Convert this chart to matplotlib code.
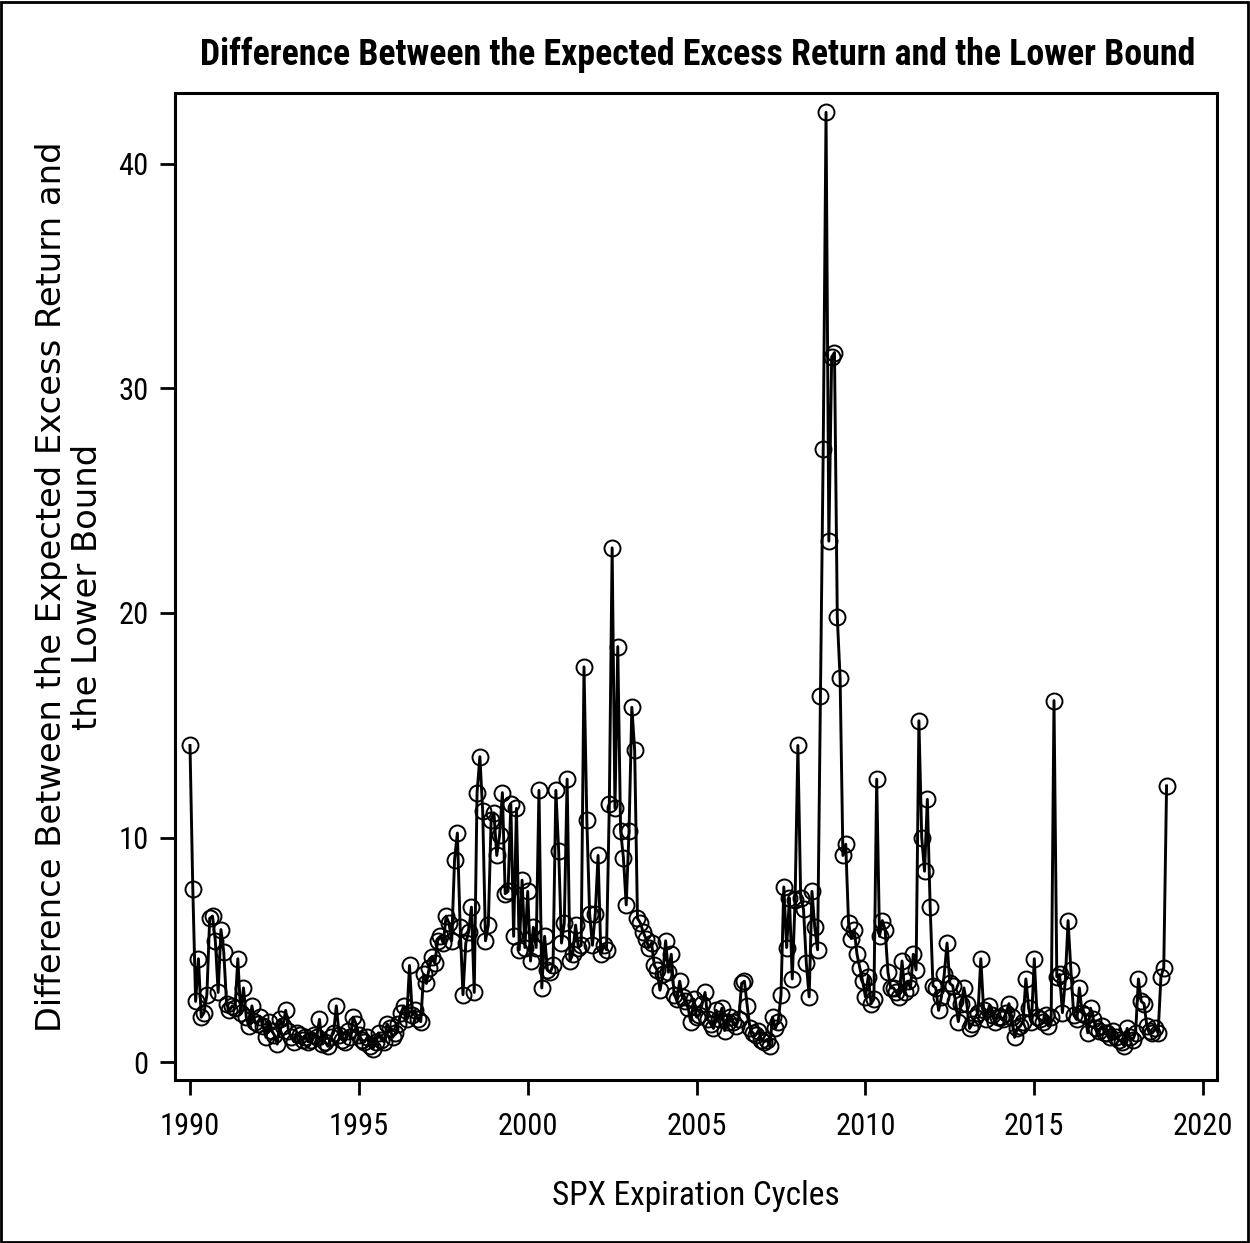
import numpy as np
import matplotlib
matplotlib.use("Agg")
import matplotlib.pyplot as plt
from matplotlib import font_manager
from matplotlib.font_manager import FontProperties

years = list(range(1990, 2019))
v1990 = [14.1, 7.7, 2.7, 4.6, 2.0, 2.2, 3.0, 6.4, 6.5, 5.4, 3.1, 5.9]
v1991 = [4.9, 2.6, 2.3, 2.5, 2.4, 4.6, 2.2, 3.3, 2.0, 1.6, 2.5, 1.8]
v1992 = [1.7, 2.0, 1.6, 1.1, 1.8, 1.4, 1.2, 0.8, 1.9, 1.6, 2.3, 1.4]
v1993 = [1.1, 0.9, 1.3, 1.2, 1.0, 1.1, 0.9, 1.0, 1.2, 1.1, 1.9, 0.8]
v1994 = [0.9, 0.7, 1.1, 1.3, 2.5, 1.2, 1.0, 0.9, 1.4, 1.1, 2.0, 1.7]
v1995 = [1.2, 1.0, 0.9, 1.1, 0.7, 0.6, 0.9, 1.3, 1.0, 0.9, 1.7, 1.5]
v1996 = [1.1, 1.3, 1.7, 2.2, 2.5, 1.9, 4.3, 2.1, 2.3, 1.9, 1.8, 3.9]
v1997 = [3.5, 4.2, 4.7, 4.4, 5.4, 5.6, 5.3, 6.5, 6.2, 5.4, 9.0, 10.2]
v1998 = [6.0, 3.0, 5.3, 5.8, 6.9, 3.1, 12.0, 13.6, 11.2, 5.4, 6.1, 10.8]
v1999 = [11.1, 9.2, 10.1, 12.0, 7.5, 7.6, 11.5, 5.6, 11.3, 5.0, 8.1, 5.1]
v2000 = [7.6, 4.5, 6.0, 5.1, 12.1, 3.3, 5.6, 4.1, 4.0, 4.3, 12.1, 9.4]
v2001 = [5.3, 6.2, 12.6, 4.5, 4.8, 6.1, 5.1, 5.2, 17.6, 10.8, 6.6, 5.2]
v2002 = [6.6, 9.2, 4.8, 5.2, 5.0, 11.5, 22.9, 11.3, 18.5, 10.3, 9.1, 7.0]
v2003 = [10.3, 15.8, 13.9, 6.4, 6.2, 5.8, 5.5, 5.1, 5.3, 4.3, 4.1, 3.2]
v2004 = [3.9, 5.4, 4.0, 4.8, 3.0, 2.8, 3.6, 2.9, 2.7, 2.4, 1.8, 2.8]
v2005 = [2.0, 2.1, 2.6, 3.1, 1.9, 1.7, 1.5, 2.3, 1.9, 2.4, 1.4, 1.8]
v2006 = [2.0, 1.8, 1.6, 1.9, 3.5, 3.6, 2.5, 1.5, 1.3, 1.2, 1.4, 1.0]
v2007 = [0.9, 1.0, 0.7, 2.0, 1.5, 1.8, 3.0, 7.8, 5.1, 7.3, 3.7, 7.2]
v2008 = [14.1, 7.3, 6.8, 4.4, 2.9, 7.6, 6.0, 5.0, 16.3, 27.3, 42.3, 23.2]
v2009 = [31.4, 31.6, 19.8, 17.1, 9.2, 9.7, 6.2, 5.5, 5.9, 4.8, 4.2, 3.6]
v2010 = [2.9, 3.8, 2.6, 2.8, 12.6, 5.6, 6.3, 5.9, 4.0, 3.3, 3.3, 3.1]
v2011 = [2.9, 4.5, 3.1, 3.6, 3.3, 4.8, 4.1, 15.2, 10.0, 8.5, 11.7, 6.9]
v2012 = [3.4, 3.3, 2.3, 2.9, 3.9, 5.3, 3.5, 3.4, 2.7, 1.8, 2.6, 3.3]
v2013 = [2.6, 1.5, 1.7, 2.0, 2.2, 4.6, 2.3, 1.9, 2.5, 2.1, 1.8, 2.0]
v2014 = [2.0, 1.9, 2.2, 2.6, 2.0, 1.1, 1.5, 1.6, 1.8, 3.7, 2.4, 1.8]
v2015 = [4.6, 2.0, 1.9, 1.8, 2.1, 1.6, 2.0, 16.1, 3.8, 3.9, 2.2, 3.6]
v2016 = [6.3, 4.1, 2.1, 1.9, 3.3, 2.2, 2.1, 1.3, 2.4, 1.9, 1.5, 1.4]
v2017 = [1.6, 1.3, 1.3, 1.1, 1.4, 1.1, 1.0, 0.9, 0.7, 1.5, 1.1, 1.0]
v2018 = [1.3, 3.7, 2.7, 2.6, 1.6, 1.4, 1.3, 1.5, 1.3, 3.8, 4.2, 12.3]

values = (v1990 + v1991 + v1992 + v1993 + v1994 + v1995 + v1996 + v1997 +
          v1998 + v1999 + v2000 + v2001 + v2002 + v2003 + v2004 + v2005 +
          v2006 + v2007 + v2008 + v2009 + v2010 + v2011 + v2012 + v2013 +
          v2014 + v2015 + v2016 + v2017 + v2018)
dates = [y + m / 12.0 for y in years for m in range(12)]

xticks = [1990, 1995, 2000, 2005, 2010, 2015, 2020]
yticks = [0, 10, 20, 30, 40]


def find_condensed(bold=False):
    entries = font_manager.fontManager.ttflist
    prefs = ['Liberation Sans Narrow', 'Arial Narrow', 'Roboto Condensed',
             'Open Sans Condensed', 'DejaVu Sans Condensed', 'Noto Sans Condensed']
    def isbold(f):
        w = f.weight
        if isinstance(w, str):
            return w in ('bold', 'heavy', 'black', 'semibold', 'demibold')
        return w >= 600
    def ok(f):
        return isbold(f) == bold and f.style == 'normal'
    for p in prefs:
        for f in entries:
            if f.name == p and ok(f):
                return FontProperties(fname=f.fname)
    for f in entries:
        st = str(f.stretch)
        if ('condensed' in st or 'Narrow' in f.name or 'Condensed' in f.name) and ok(f) \
                and 'extra' not in st and 'ultra' not in st and 'Mono' not in f.name:
            return FontProperties(fname=f.fname)
    return None


cond = find_condensed(False)
cond_b = find_condensed(True)
if cond is not None:
    tick_fp = cond.copy(); tick_fp.set_size(22)
    xl_fp = cond.copy(); xl_fp.set_size(24)
else:
    tick_fp = FontProperties(family='Liberation Sans', size=18)
    xl_fp = FontProperties(family='Liberation Sans', size=21)
if cond_b is not None:
    title_fp = cond_b.copy(); title_fp.set_size(25.8)
else:
    title_fp = FontProperties(family='Liberation Sans', weight='bold', size=21)

fig = plt.figure(figsize=(12.5, 12.43), dpi=100)
ax = fig.add_axes([175/1250, 1 - 1080/1243, (1217-175)/1250, (1080-93)/1243])

ax.plot(dates, values, color='black', lw=2.1, marker='o', markersize=11.5,
        markerfacecolor='none', markeredgecolor='black', markeredgewidth=1.4)

ax.set_xlim(1989.556, 2020.41)
ax.set_ylim(-0.8, 43.16)
ax.set_xticks(xticks)
ax.set_yticks(yticks)
ax.set_xticklabels([str(t) for t in xticks], fontproperties=tick_fp)
ax.set_yticklabels([str(t) for t in yticks], fontproperties=tick_fp)
ax.tick_params(axis='x', direction='out', length=11, width=2, pad=12)
ax.tick_params(axis='y', direction='out', length=11, width=2, pad=8)
for s in ax.spines.values():
    s.set_linewidth(2.2)

ax.set_xlabel('SPX Expiration Cycles', fontproperties=xl_fp, labelpad=28)
ax.set_ylabel('Difference Between the Expected Excess Return and\nthe Lower Bound',
              fontfamily='DejaVu Sans', fontsize=24.3, labelpad=10, linespacing=1.12)
fig.text(0.558, 1 - 55/1243, 'Difference Between the Expected Excess Return and the Lower Bound',
         ha='center', va='center', fontproperties=title_fp)

border = plt.Rectangle((0.001, 0.001), 0.997, 0.997, transform=fig.transFigure,
                       fill=False, edgecolor='black', lw=2)
fig.patches.append(border)

fig.savefig('out.png', dpi=100)
